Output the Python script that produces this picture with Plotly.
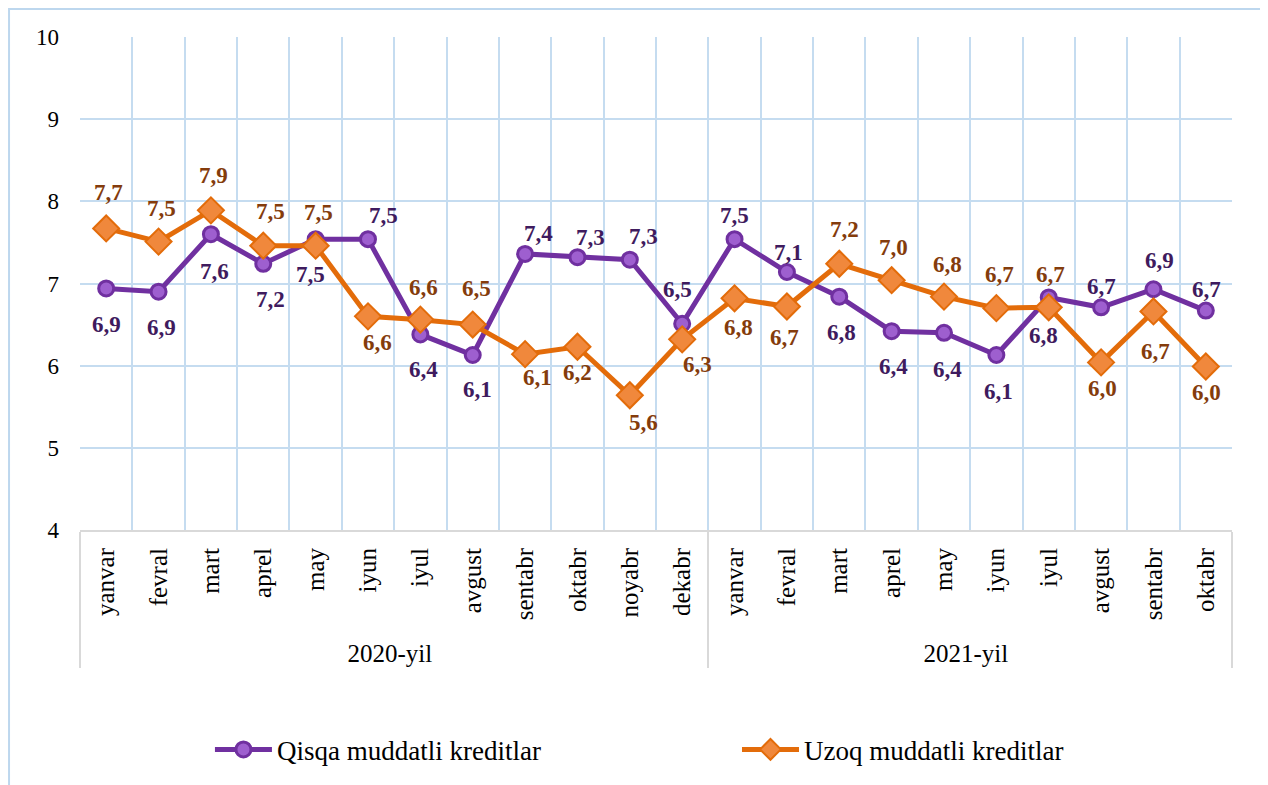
import plotly.graph_objects as go

months = ["yanvar", "fevral", "mart", "aprel", "may", "iyun", "iyul", "avgust",
          "sentabr", "oktabr", "noyabr", "dekabr",
          "yanvar", "fevral", "mart", "aprel", "may", "iyun", "iyul", "avgust",
          "sentabr", "oktabr"]
years = ["2020-yil"] * 12 + ["2021-yil"] * 10

qisqa = [6.94, 6.90, 7.60, 7.24, 7.54, 7.54, 6.38, 6.13, 7.36, 7.32, 7.29, 6.51,
         7.54, 7.14, 6.84, 6.42, 6.40, 6.13, 6.83, 6.71, 6.93, 6.67]
uzoq = [7.67, 7.51, 7.89, 7.46, 7.46, 6.60, 6.56, 6.50, 6.14, 6.23, 5.64, 6.32,
        6.82, 6.72, 7.24, 7.04, 6.84, 6.70, 6.71, 6.04, 6.66, 5.99]

series_names = ["Qisqa muddatli kreditlar", "Uzoq muddatli kreditlar"]

# label offsets from their point, in pixels (dx right, dy down)
qisqa_dx = [0, 3, 4, 7, -5, 15, 3, 5, 13, 13, 14, -5, 0, 2, 2, 2, 3, 2, -5, 0, 6, 1]
qisqa_dy = [36, 36, 37, 36, 35, -24, 35, 35, -20, -20, -23, -34, -24, -20, 36, 35, 37, 37, 38, -21, -29, -21]
uzoq_dx = [2, 3, 3, 7, 3, 9, 3, 4, 12, 0, 14, 15, 4, -2, 5, 2, 3, 3, 2, 1, 2, 1]
uzoq_dy = [-36, -33, -35, -34, -33, 26, -32, -36, 23, 26, 27, 25, 29, 31, -34, -33, -32, -34, -33, 26, 40, 26]

FONT = "Liberation Serif"
PURPLE_LABEL = "#3F1B5E"
ORANGE_LABEL = "#843C0C"

fig = go.Figure()
fig.add_trace(go.Scatter(
    x=[years, months], y=qisqa, name=series_names[0],
    mode="lines+markers", legend="legend",
    line=dict(color="#7030A0", width=5),
    marker=dict(symbol="circle", size=15, color="#9E5FCF",
                line=dict(color="#7030A0", width=3)),
    cliponaxis=False,
))
fig.add_trace(go.Scatter(
    x=[years, months], y=uzoq, name=series_names[1],
    mode="lines+markers", legend="legend2",
    line=dict(color="#E36C0A", width=5),
    marker=dict(symbol="diamond", size=20, color="#F0883C",
                line=dict(color="#E36C0A", width=2)),
    cliponaxis=False,
))

def fmt(v):
    return f"{v:.1f}".replace(".", ",")

annotations = []
for vals, dxs, dys, col in [(qisqa, qisqa_dx, qisqa_dy, PURPLE_LABEL),
                            (uzoq, uzoq_dx, uzoq_dy, ORANGE_LABEL)]:
    for i, v in enumerate(vals):
        annotations.append(dict(
            x=i, y=v, xref="x", yref="y", text=f"<b>{fmt(v)}</b>",
            showarrow=False, xshift=dxs[i], yshift=-dys[i],
            font=dict(family=FONT, size=23, color=col),
        ))

legend_style = dict(orientation="h", yanchor="middle", y=-0.443, xanchor="left",
                    font=dict(family=FONT, size=27, color="black"),
                    itemwidth=57, bgcolor="rgba(0,0,0,0)")

fig.update_layout(
    width=1260, height=777,
    margin=dict(l=72, r=36, t=29, b=254),
    paper_bgcolor="white", plot_bgcolor="white",
    font=dict(family=FONT, size=25, color="black"),
    showlegend=True,
    legend=dict(x=0.1128, **legend_style),
    legend2=dict(x=0.5703, **legend_style),
    annotations=annotations,
    shapes=[dict(type="rect", xref="paper", yref="paper",
                 x0=-0.0616, x1=1.0286, y0=-0.6, y1=1.0567,
                 line=dict(color="#BDD7EE", width=2), layer="below")],
)
fig.update_xaxes(
    type="multicategory", tickson="boundaries", range=[-0.5, 21.5],
    showgrid=True, gridcolor="#C5DCF0", gridwidth=2,
    showline=True, linecolor="#D9D9D9", linewidth=2,
    tickangle=-90, tickfont=dict(family=FONT, size=25, color="black"),
    showdividers=True, dividercolor="#D9D9D9", dividerwidth=2,
    ticks="", automargin=False, ticklabelstandoff=6,
)
fig.update_yaxes(
    range=[4, 10], dtick=1, showgrid=True, gridcolor="#C5DCF0", gridwidth=2,
    zeroline=False, showline=False,
    tickfont=dict(family=FONT, size=23, color="black"),
    ticklabelstandoff=20, automargin=False,
)

fig.write_html("out.html")
